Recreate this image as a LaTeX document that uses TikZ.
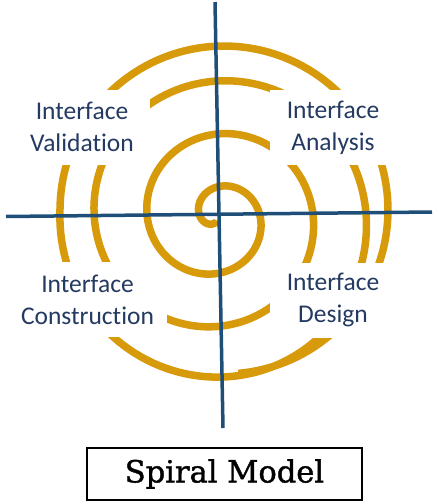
\documentclass[tikz,border=0pt]{standalone}
\usepackage{fontspec}
\setmainfont{Carlito}[Ligatures=NoCommon]
\newfontfamily\slabfont{DejaVu Serif}[FakeBold=1.3]
\usepackage{xcolor}
\usepackage{tikz}
\definecolor{spiralgold}{HTML}{D69A0B}
\definecolor{axisblue}{HTML}{1F4E79}
\definecolor{textblue}{HTML}{243A62}

\begin{document}
\begin{tikzpicture}[
    x=1pt, y=-1pt,
    declare function={blend(\t)=min(max((\t-1100)/160,0),1); spirad(\t)=(1-blend(\t))*(0.147222*\t-9.75)+blend(\t)*164;},
    spiral/.style={draw=spiralgold, line width=7.5pt},
    axis/.style={draw=axisblue, line width=3.5pt},
    quad/.style={fill=white, text=textblue, align=center, inner sep=0pt, minimum height=75pt, font=\fontsize{25.5}{32}\selectfont},
    title/.style={draw, line width=1.2pt, minimum width=275pt, minimum height=52pt, font=\slabfont\fontsize{30.5}{36}\selectfont}
]
    \useasboundingbox (0,0) rectangle (439,504);

    \draw[spiral, domain=90:1525, samples=600, variable=\t]
        plot ({217+7*blend(\t)+spirad(\t)*cos(\t)}, {217-7*blend(\t)+spirad(\t)*sin(\t)});

    \node[quad, minimum width=136pt] (validation) at (82,127) {Interface\\Validation};
    \node[quad, minimum width=126pt] (analysis) at (333,127.5) {Interface\\Analysis};
    \node[quad, minimum width=159pt] (construction) at (87.5,299.5) {Interface\\Construction};
    \node[quad, minimum width=126pt] (design) at (333,300) {Interface\\Design};

    \coordinate (west) at (6,216.5);
    \coordinate (east) at (432,212);
    \coordinate (north) at (215,2);
    \coordinate (south) at (223,428);
    \draw[axis] (west) -- (east);
    \draw[axis] (north) -- (south);

    \node[title] (model) at (224.5,474) {Spiral Model};
\end{tikzpicture}
\end{document}
